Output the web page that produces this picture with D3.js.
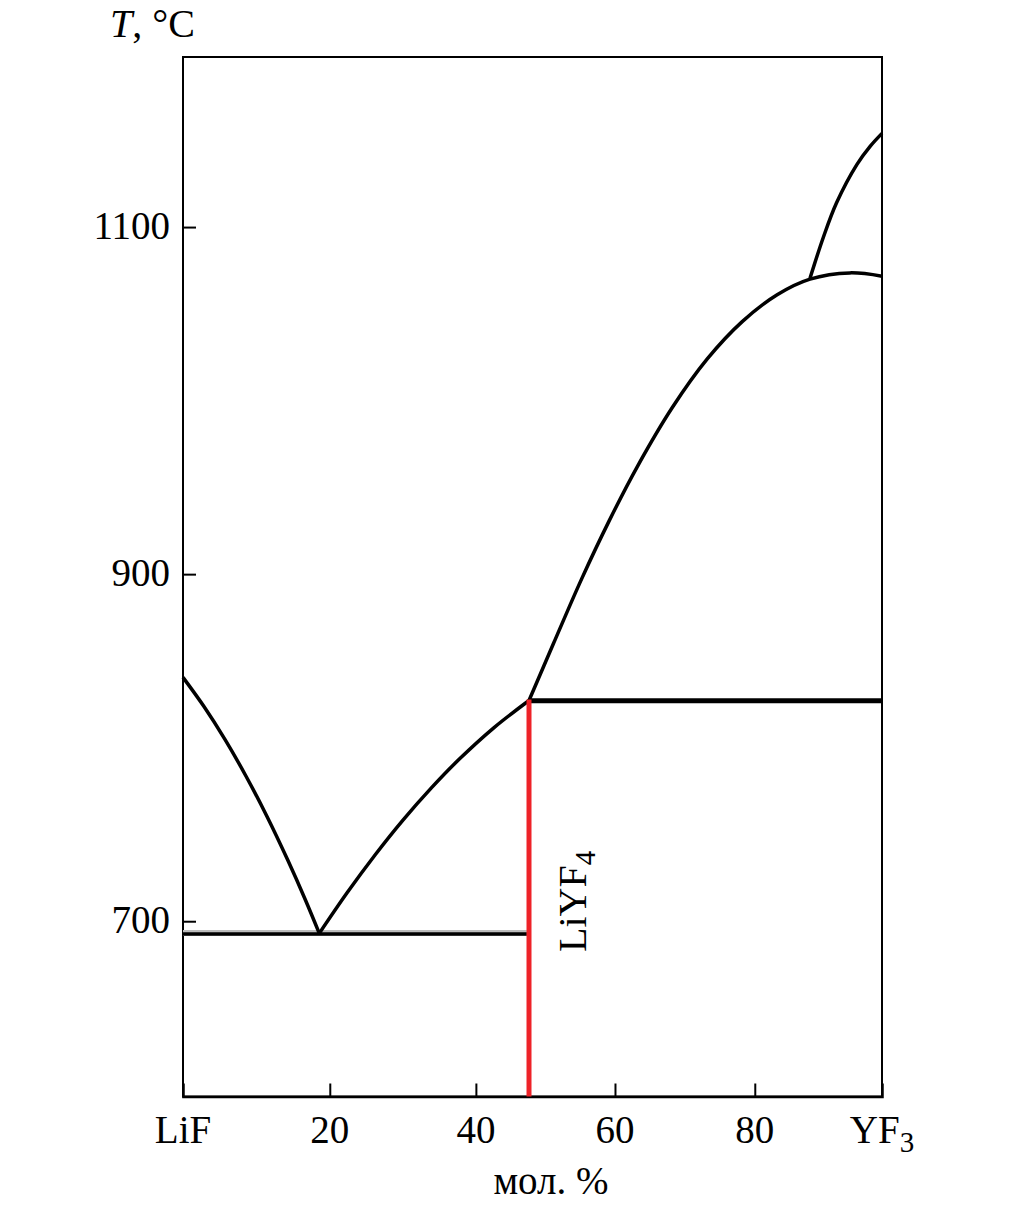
<!DOCTYPE html>
<html>
<head>
<meta charset="utf-8">
<script src="https://cdn.jsdelivr.net/npm/d3@7"></script>
<style>
  body { margin: 0; background: #fff; }
  svg text { font-family: "Liberation Serif", "DejaVu Serif", serif; fill: #000; }
</style>
</head>
<body>
<div id="chart"></div>
<script>
// x: mol.% YF3, y: T, °C
let liquidus_lif = [[0, 840.5], [3, 823.7], [6, 804.8], [9, 783.7], [12, 760.5], [15, 735.1], [17.5, 712.4], [19.5, 693]];
let liquidus_liyf4 = [[19.5, 693], [23.5, 716.5], [27.5, 738.3], [31.5, 758.4], [35.5, 776.7], [39.5, 793.3], [44.5, 811.6], [49.5, 827.2]];
let liquidus_yf3 = [[49.5, 827.2], [53, 860], [57, 897], [61, 931], [65, 962], [70, 996], [75, 1024], [80, 1045.5], [85, 1061], [89.7, 1070], [95.4, 1073.6], [100, 1071.7]];
let upper_branch = [[89.7, 1070.5], [91.6, 1094], [93.5, 1114], [96.4, 1136], [98.3, 1146.5], [100, 1154]];

let eutectic = { x0: 0, x1: 49.2, t: 692.7 };
let peritectic = { x0: 49.5, x1: 100, t: 827 };
let compound = { x: 49.5, t: 827.2, name: "LiYF", sub: "4" };

// tick marks as they sit in the picture
let x_ticks = [0, 21, 41.9, 61.8, 81.8, 100];
let x_tick_labels = ["LiF", "20", "40", "60", "80", "YF"];
let y_ticks = [700, 900, 1100];

function draw_diagram(containerid) {
    let width = 1010, height = 1206;
    let svg = d3.select('#' + containerid).append('svg')
        .attr('width', width)
        .attr('height', height);

    let margin = ({ top: 57, right: 128, bottom: 109.5, left: 183 });
    let x = d3.scaleLinear([0, 100], [margin.left, width - margin.right]);
    let y = d3.scaleLinear([599, 1198], [height - margin.bottom, margin.top]);

    // рамка
    svg.append('rect')
        .attr('x', x(0)).attr('y', y(1198))
        .attr('width', x(100) - x(0)).attr('height', y(599) - y(1198))
        .attr('fill', 'none').attr('stroke', '#000').attr('stroke-width', 2);

    // оси
    svg.append('g')
        .attr('transform', `translate(0,${y(599)})`)
        .call(d3.axisBottom(x).tickValues(x_ticks).tickSize(-13).tickFormat(''))
        .call(g => g.select('.domain').attr('stroke-width', 2.5))
        .call(g => g.selectAll('.tick line').attr('stroke-width', 2))
        .call(g => g.selectAll('.tick').filter((d, i) => i == 0 || i == x_ticks.length - 1).select('line').remove());

    svg.append('g')
        .attr('transform', `translate(${x(0)},0)`)
        .call(d3.axisLeft(y).tickValues(y_ticks).tickSize(-13).tickFormat(''))
        .call(g => g.select('.domain').remove())
        .call(g => g.selectAll('.tick line').attr('stroke-width', 2));

    // подписи делений
    let xl = svg.append('g').selectAll('text')
        .data(x_ticks)
        .join('text')
        .attr('x', d => x(d))
        .attr('y', 1143)
        .attr('text-anchor', 'middle')
        .attr('font-size', 39)
        .text((d, i) => x_tick_labels[i]);
    xl.filter((d, i) => i == x_ticks.length - 1)
        .append('tspan').attr('dy', 9).attr('font-size', 29).text('3');

    svg.append('g').selectAll('text')
        .data(y_ticks)
        .join('text')
        .attr('x', x(0) - 13)
        .attr('y', d => y(d) + 12)
        .attr('text-anchor', 'end')
        .attr('font-size', 39)
        .text(d => d);

    // заголовки осей
    let yt = svg.append('text').attr('x', 110).attr('y', 37).attr('font-size', 40);
    yt.append('tspan').attr('font-style', 'italic').text('T');
    yt.append('tspan').text(', °C');

    svg.append('text')
        .attr('x', 551).attr('y', 1194)
        .attr('text-anchor', 'middle')
        .attr('font-size', 39)
        .text('мол. %');

    // линии диаграммы
    let line = d3.line()
        .x(d => x(d[0]))
        .y(d => y(d[1]))
        .curve(d3.curveCatmullRom.alpha(0.5));

    svg.append('line')
        .attr('x1', x(eutectic.x0)).attr('x2', x(eutectic.x1))
        .attr('y1', y(eutectic.t) - 1).attr('y2', y(eutectic.t) - 1)
        .attr('stroke', '#bbb').attr('stroke-width', 6);
    svg.append('line')
        .attr('x1', x(eutectic.x0)).attr('x2', x(eutectic.x1))
        .attr('y1', y(eutectic.t)).attr('y2', y(eutectic.t))
        .attr('stroke', '#000').attr('stroke-width', 3.5);

    svg.append('line')
        .attr('x1', x(peritectic.x0)).attr('x2', x(peritectic.x1))
        .attr('y1', y(peritectic.t)).attr('y2', y(peritectic.t))
        .attr('stroke', '#000').attr('stroke-width', 5);

    svg.selectAll('.curve')
        .data([liquidus_lif, liquidus_liyf4, liquidus_yf3, upper_branch])
        .join('path')
        .attr('class', 'curve')
        .attr('d', line)
        .attr('fill', 'none')
        .attr('stroke', '#000')
        .attr('stroke-width', 3.5)
        .attr('stroke-linejoin', 'round');

    // LiYF4
    svg.append('line')
        .attr('x1', x(compound.x)).attr('x2', x(compound.x))
        .attr('y1', y(compound.t) - 1).attr('y2', y(599))
        .attr('stroke', '#ee2228').attr('stroke-width', 5);

    let lbl = svg.append('text')
        .attr('transform', `translate(${x(compound.x) + 57},952) rotate(-90)`)
        .attr('font-size', 40);
    lbl.append('tspan').text(compound.name);
    lbl.append('tspan').attr('dy', 9).attr('font-size', 29).text(compound.sub);
}

draw_diagram('chart');
</script>
</body>
</html>
